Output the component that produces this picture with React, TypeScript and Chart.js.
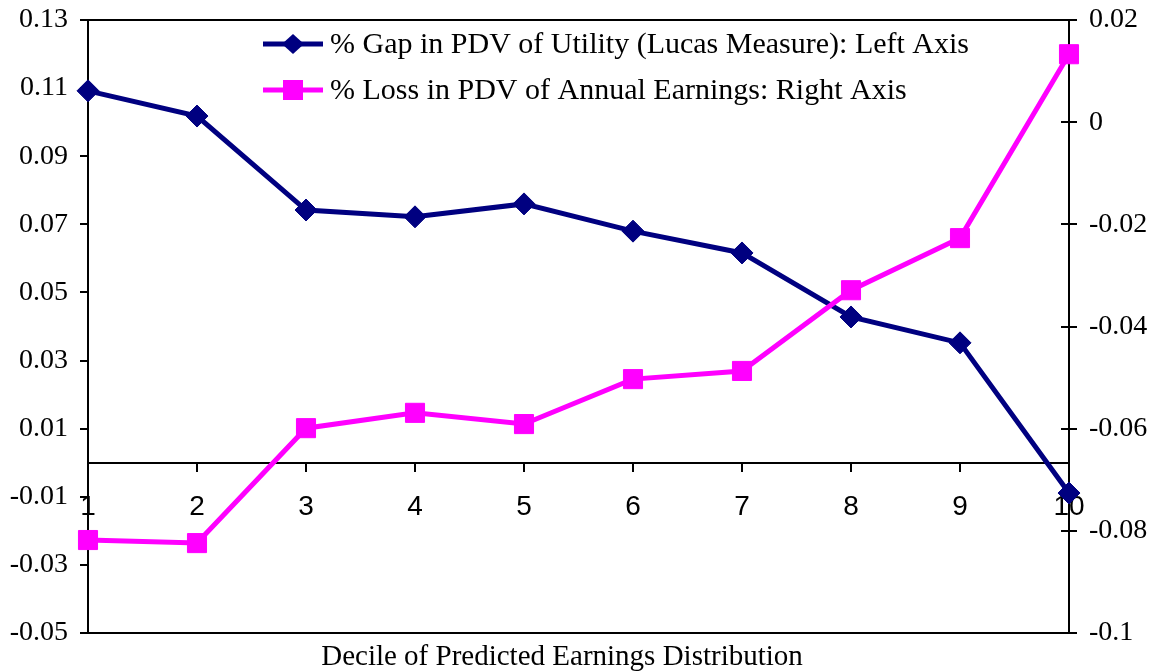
import React, { useEffect, useRef } from 'react';
import { Chart, registerables } from 'chart.js';

Chart.register(...registerables);

const deciles = ['1', '2', '3', '4', '5', '6', '7', '8', '9', '10'];
const utilityGap = [0.1092, 0.1018, 0.0742, 0.0722, 0.076, 0.068, 0.0616, 0.0428, 0.0352, -0.0089];
const earningsLoss = [-0.0818, -0.0824, -0.0599, -0.0569, -0.0591, -0.0503, -0.0487, -0.0329, -0.0227, 0.0133];
const leftTickValues = [-0.05, -0.03, -0.01, 0.01, 0.03, 0.05, 0.07, 0.09, 0.11, 0.13];
const leftTickLabels = ['-0.05', '-0.03', '-0.01', '0.01', '0.03', '0.05', '0.07', '0.09', '0.11', '0.13'];
const rightTickValues = [-0.1, -0.08, -0.06, -0.04, -0.02, 0, 0.02];
const rightTickLabels = ['-0.1', '-0.08', '-0.06', '-0.04', '-0.02', '0', '0.02'];
const seriesLabels = [
  '% Gap in PDV of Utility (Lucas Measure): Left Axis',
  '% Loss in PDV of Annual Earnings: Right Axis',
];
const xAxisTitle = 'Decile of Predicted Earnings Distribution';

const NAVY = '#000080';
const MAGENTA = '#FF00FF';
const SERIF = '"Liberation Serif", "DejaVu Serif", serif';
const SANS = '"Liberation Sans", Arial, sans-serif';

const decorPlugin = {
  id: 'decor',
  afterDatasetsDraw(chart: any) {
    const { ctx, chartArea } = chart;
    ctx.save();
    // top and bottom frame of plot area
    ctx.strokeStyle = '#000';
    ctx.lineWidth = 2;
    ctx.beginPath();
    ctx.moveTo(chartArea.left, chartArea.top);
    ctx.lineTo(chartArea.right, chartArea.top);
    ctx.moveTo(chartArea.left, chartArea.bottom);
    ctx.lineTo(chartArea.right, chartArea.bottom);
    ctx.stroke();
    // inner half of right axis cross ticks
    const y1 = chart.scales.y1;
    ctx.beginPath();
    y1.ticks.forEach((t: any) => {
      const py = Math.round(y1.getPixelForValue(t.value));
      ctx.moveTo(chartArea.right - 8, py);
      ctx.lineTo(chartArea.right, py);
    });
    ctx.stroke();

    // legend
    const rows = [
      { y: 44, color: NAVY, style: 'diamond', text: chart.data.datasets[0].label },
      { y: 90, color: MAGENTA, style: 'square', text: chart.data.datasets[1].label },
    ];
    rows.forEach((r) => {
      ctx.strokeStyle = r.color;
      ctx.fillStyle = r.color;
      ctx.lineWidth = 5;
      ctx.beginPath();
      ctx.moveTo(263, r.y);
      ctx.lineTo(323, r.y);
      ctx.stroke();
      const cx = 293;
      ctx.beginPath();
      if (r.style === 'diamond') {
        ctx.moveTo(cx, r.y - 10);
        ctx.lineTo(cx + 11, r.y);
        ctx.lineTo(cx, r.y + 10);
        ctx.lineTo(cx - 11, r.y);
        ctx.closePath();
      } else {
        ctx.rect(cx - 10, r.y - 10, 20, 20);
      }
      ctx.fill();
      ctx.fillStyle = '#000';
      ctx.font = `30px ${SERIF}`;
      ctx.textBaseline = 'middle';
      ctx.textAlign = 'left';
      ctx.fillText(r.text, 330, r.y + 1);
    });

    // x-axis title
    ctx.fillStyle = '#000';
    ctx.font = `29px ${SERIF}`;
    ctx.textAlign = 'center';
    ctx.textBaseline = 'alphabetic';
    ctx.fillText(xAxisTitle, 562, 665);
    ctx.restore();
  },
};

export default function App() {
  const ref = useRef<HTMLCanvasElement | null>(null);

  useEffect(() => {
    document.body.style.margin = '0';
    const canvas = ref.current;
    if (!canvas) return;
    const chart = new Chart(canvas, {
      type: 'line',
      data: {
        labels: deciles,
        datasets: [
          {
            label: seriesLabels[0],
            data: utilityGap,
            yAxisID: 'y',
            borderColor: NAVY,
            backgroundColor: NAVY,
            borderWidth: 5,
            pointStyle: 'rectRot',
            pointRadius: 11,
            pointBorderWidth: 1,
            pointBackgroundColor: NAVY,
            pointBorderColor: NAVY,
            tension: 0,
            clip: false,
            order: 2,
          },
          {
            label: seriesLabels[1],
            data: earningsLoss,
            yAxisID: 'y1',
            borderColor: MAGENTA,
            backgroundColor: MAGENTA,
            borderWidth: 5,
            pointStyle: 'rect',
            pointRadius: 13.5,
            pointBorderWidth: 1,
            pointBackgroundColor: MAGENTA,
            pointBorderColor: MAGENTA,
            tension: 0,
            clip: false,
            order: 1,
          },
        ],
      },
      options: {
        responsive: false,
        animation: false,
        devicePixelRatio: 1,
        layout: { padding: { top: 20, bottom: 38, left: 0, right: 0 } },
        plugins: {
          legend: { display: false },
          tooltip: { enabled: false },
          title: { display: false },
        },
        scales: {
          x: {
            type: 'category',
            offset: false,
            position: { y: 0 } as any,
            grid: {
              display: true,
              drawOnChartArea: false,
              drawTicks: true,
              tickLength: 8,
              color: '#000',
              lineWidth: 2,
            },
            border: { display: true, color: '#000', width: 2 },
            ticks: {
              font: { family: SANS, size: 28 },
              color: '#000',
              padding: 20,
              maxRotation: 0,
              autoSkip: false,
            },
          },
          y: {
            type: 'linear',
            position: 'left',
            min: -0.05,
            max: 0.13,
            afterBuildTicks: (scale: any) => {
              scale.ticks = leftTickValues.map((v) => ({ value: v }));
            },
            afterFit: (scale: any) => {
              scale.width = 88;
              scale.paddingTop = 10;
              scale.paddingBottom = 10;
            },
            grid: {
              display: true,
              drawOnChartArea: false,
              drawTicks: true,
              tickLength: 8,
              color: '#000',
              lineWidth: 2,
            },
            border: { display: true, color: '#000', width: 2 },
            ticks: {
              font: { family: SERIF, size: 28 },
              color: '#000',
              padding: 12,
              callback: (_v: any, i: number) => leftTickLabels[i],
            },
          },
          y1: {
            type: 'linear',
            position: 'right',
            min: -0.1,
            max: 0.02,
            afterBuildTicks: (scale: any) => {
              scale.ticks = rightTickValues.map((v) => ({ value: v }));
            },
            afterFit: (scale: any) => {
              scale.width = 86;
              scale.paddingTop = 10;
              scale.paddingBottom = 10;
            },
            grid: {
              display: true,
              drawOnChartArea: false,
              drawTicks: true,
              tickLength: 8,
              color: '#000',
              lineWidth: 2,
            },
            border: { display: true, color: '#000', width: 2 },
            ticks: {
              font: { family: SERIF, size: 28 },
              color: '#000',
              padding: 12,
              callback: (_v: any, i: number) => rightTickLabels[i],
            },
          },
        },
      },
      plugins: [decorPlugin],
    });
    return () => chart.destroy();
  }, []);

  return (
    <div style={{ width: 1155, height: 671, background: '#fff' }}>
      <canvas ref={ref} width={1155} height={671} style={{ display: 'block' }} />
    </div>
  );
}
